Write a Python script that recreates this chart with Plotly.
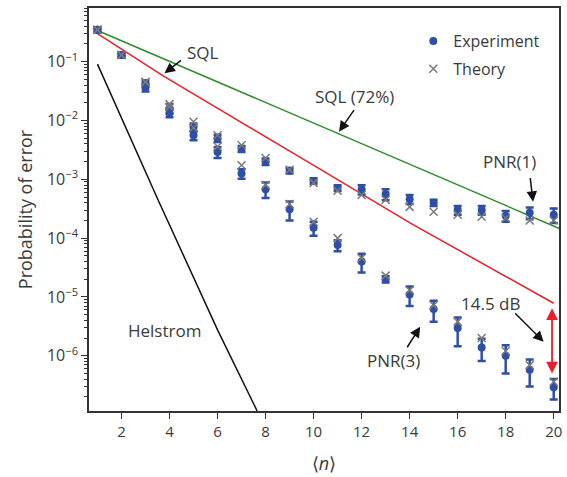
import plotly.graph_objects as go

n = list(range(1, 21))

# Experiment, PNR(1)
exp1 = [0.35, 0.13, 0.043, 0.016, 7.7e-3, 5.0e-3, 3.3e-3, 2.0e-3, 1.4e-3, 9.4e-4,
        7.1e-4, 6.7e-4, 5.6e-4, 4.6e-4, 4.0e-4, 3.0e-4, 3.0e-4, 2.4e-4, 2.7e-4, 2.5e-4]
err1 = [0.03, 0.01, 0.005, 0.003, 1.2e-3, 7e-4, 4e-4, 2.5e-4, 1.5e-4, 1e-4,
        8e-5, 1.2e-4, 1.2e-4, 8e-5, 5e-5, 5e-5, 5e-5, 5e-5, 6e-5, 7e-5]
# Experiment, PNR(3)
exp3 = [0.35, 0.13, 0.036, 0.0134, 5.6e-3, 2.9e-3, 1.25e-3, 6.8e-4, 3.1e-4, 1.5e-4,
        7.6e-5, 4.0e-5, 2.0e-5, 1.1e-5, 6.2e-6, 2.95e-6, 1.38e-6, 1.0e-6, 5.8e-7, 2.9e-7]
err3 = [0.03, 0.01, 0.005, 0.002, 1e-3, 6e-4, 2.3e-4, 2e-4, 1.1e-4, 4e-5,
        1.6e-5, 1.4e-5, 2.5e-6, 4e-6, 2.4e-6, 1.5e-6, 5.7e-7, 5e-7, 2.8e-7, 1.1e-7]
# Theory
th1 = [0.35, 0.13, 0.045, 0.019, 9.5e-3, 5.6e-3, 3.8e-3, 2.3e-3, 1.45e-3, 8.7e-4,
       6.4e-4, 5.4e-4, 4.5e-4, 3.4e-4, 2.8e-4, 2.5e-4, 2.3e-4, 2.2e-4, 2.0e-4, 2.0e-4]
th3 = [0.35, 0.13, 0.045, 0.017, 7.5e-3, 3.6e-3, 1.74e-3, 8.0e-4, 3.8e-4, 1.9e-4,
       1.0e-4, 4.6e-5, 2.3e-5, 1.3e-5, 7.2e-6, 3.8e-6, 2.0e-6, 1.2e-6, 6.9e-7, 3.6e-7]

# Bound curves
sql72_n = [1, 20.25]
sql72_p = [0.34, 1.45e-4]
sql_n = [1, 3.72, 10.2, 14.05, 20]
sql_p = [0.30, 0.058, 1.55e-3, 1.78e-4, 7.8e-6]
hel_n = [1, 3.52, 6.0, 7.65]
hel_p = [0.091, 4.5e-4, 2.75e-6, 1.15e-7]

x_ticks = list(range(2, 21, 2))
y_exps = [-6, -5, -4, -3, -2, -1]
y_ticks = [10.0 ** e for e in y_exps]
y_ticktext = ["10<sup>\u2212%d</sup>" % (-e) for e in y_exps]
minor_y = [m * 10.0 ** e for e in range(-7, 0) for m in range(2, 10)]

BLUE = "#2f4fa6"
GRAY = "#7a7a7a"
TXT = "#3a3a3a"
FONT = "Open Sans"

fig = go.Figure()
fig.add_trace(go.Scatter(x=sql72_n, y=sql72_p, mode="lines", line=dict(color="#2e8b2e", width=1.5),
                         showlegend=False, hoverinfo="skip"))
fig.add_trace(go.Scatter(x=sql_n, y=sql_p, mode="lines", line=dict(color="#e8202a", width=1.5),
                         showlegend=False, hoverinfo="skip"))
fig.add_trace(go.Scatter(x=hel_n, y=hel_p, mode="lines", line=dict(color="#111111", width=1.5),
                         showlegend=False, hoverinfo="skip"))

for i, (vals, errs) in enumerate([(exp1, err1), (exp3, err3)]):
    fig.add_trace(go.Scatter(
        x=n, y=vals, mode="markers", name="Experiment", showlegend=(i == 0), legendrank=1,
        legendgroup="exp",
        marker=dict(color=BLUE, size=8, symbol="circle"),
        error_y=dict(type="data", array=errs, color=BLUE, thickness=2.5, width=4)))
for i, vals in enumerate([th1, th3]):
    fig.add_trace(go.Scatter(
        x=n, y=vals, mode="markers", name="Theory", showlegend=(i == 0), legendrank=2,
        legendgroup="th",
        marker=dict(color=GRAY, size=8, symbol="x-thin", line=dict(color=GRAY, width=1.5))))

anns = []
def txt(x, ly, s):
    anns.append(dict(x=x, y=ly, text=s, showarrow=False, font=dict(size=17, color=TXT, family=FONT)))
def arr(x, ly, ax, ay):
    anns.append(dict(x=x, y=ly, ax=ax, ay=ay, text="", showarrow=True, arrowhead=2,
                     arrowsize=1.4, arrowwidth=1.5, arrowcolor="#111111"))

txt(5.38, -0.847, "SQL"); arr(3.79, -1.197, 18, -14)
txt(11.72, -1.595, "SQL (72%)"); arr(11.06, -2.19, 16, -23)
txt(18.16, -2.689, "PNR(1)"); arr(19.14, -3.381, -3, -25)
txt(13.31, -6.073, "PNR(3)"); arr(14.44, -5.507, -14, 22)
txt(17.36, -5.104, "14.5 dB"); arr(19.58, -5.762, -30, -30)
txt(3.79, -5.563, "Helstrom")
anns.append(dict(x=19.93, y=-5.194, ax=19.93, ay=-6.328, axref="x", ayref="y", text="",
                 showarrow=True, arrowhead=2, startarrowhead=2, arrowside="end+start",
                 arrowsize=1.3, startarrowsize=1.3, arrowwidth=1.8, arrowcolor="#e8202a"))

fig.update_layout(
    width=567, height=477,
    margin=dict(l=89, r=5, t=8, b=66),
    paper_bgcolor="white", plot_bgcolor="white",
    font=dict(family=FONT, size=15, color=TXT),
    annotations=anns,
    showlegend=True,
    legend=dict(x=0.69, y=0.96, xanchor="left", yanchor="top", bgcolor="rgba(0,0,0,0)",
                font=dict(size=16, color=TXT, family=FONT), itemwidth=30, tracegroupgap=4),
)
fig.update_xaxes(range=[0.647, 20.22], tickvals=x_ticks, ticks="outside", ticklen=6,
                 tickcolor="#333", showline=True, linecolor="#333", linewidth=1.5, mirror=True,
                 showgrid=False, zeroline=False, title=dict(text="⟨<i>n</i>⟩", standoff=18),
                 tickfont=dict(size=15))
fig.update_yaxes(type="log", range=[-6.94, -0.087], tickmode="array", tickvals=y_ticks,
                 ticktext=y_ticktext, ticks="outside",
                 ticklen=6, tickcolor="#333", showline=True, linecolor="#333", linewidth=1.5,
                 mirror=True, showgrid=False, zeroline=False,
                 minor=dict(ticks="outside", ticklen=3, tickcolor="#333", tickvals=minor_y, showgrid=False),
                 title=dict(text="Probability of error", standoff=10), tickfont=dict(size=16))

fig.write_html("out.html")
